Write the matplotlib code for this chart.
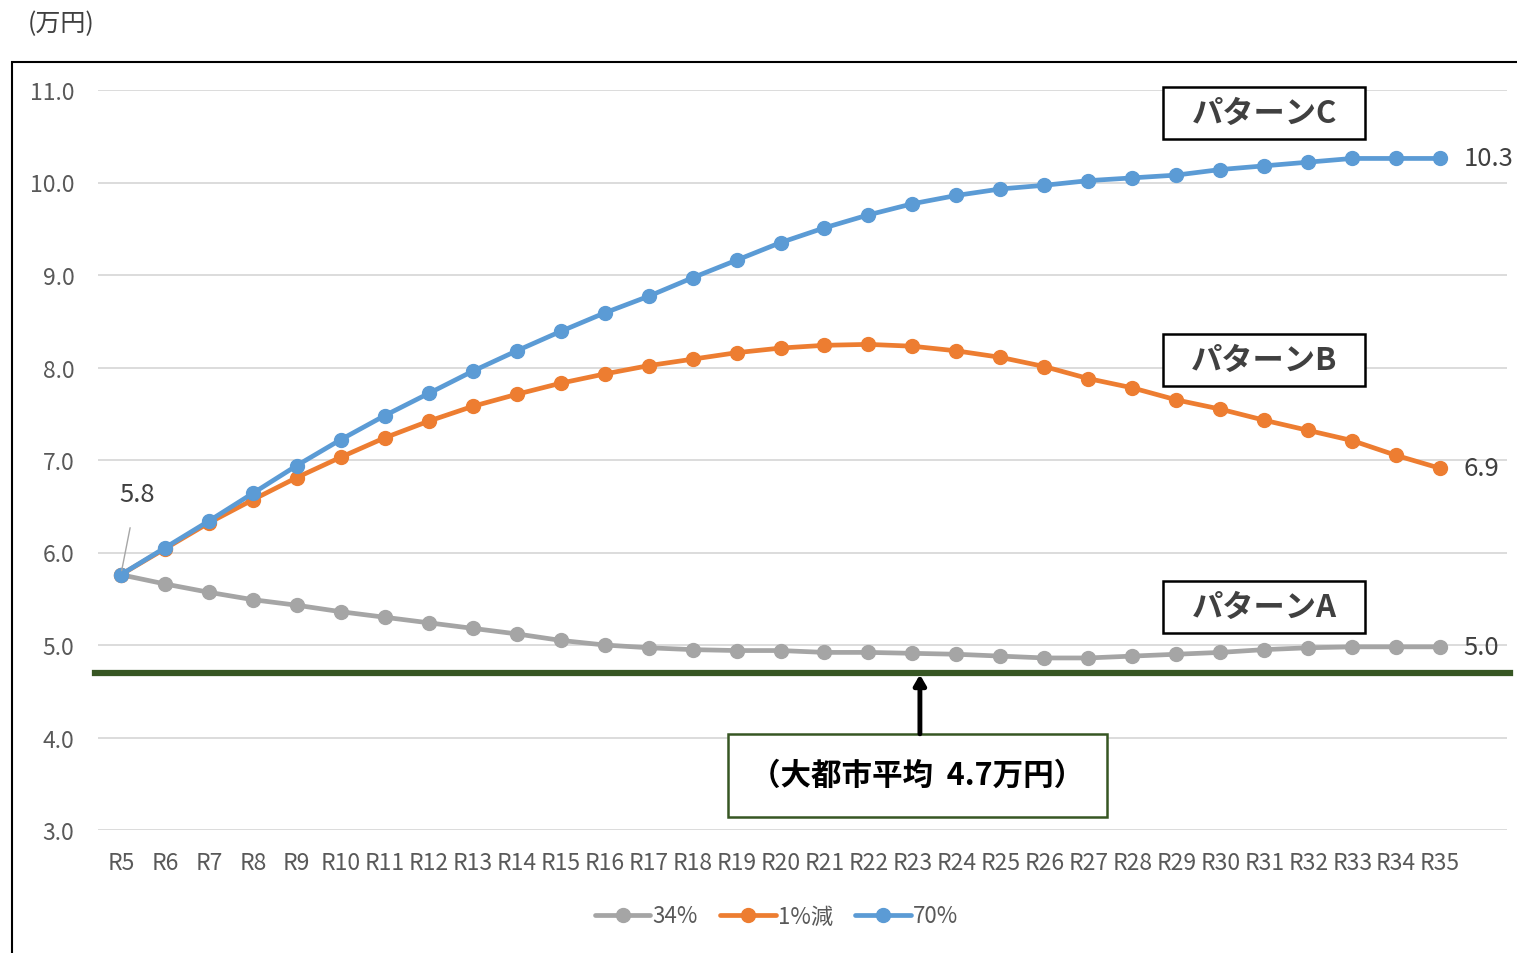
import matplotlib
matplotlib.use("Agg")
from matplotlib import pyplot as plt
from matplotlib.patches import Rectangle
from matplotlib.lines import Line2D

plt.rcParams["font.family"] = ["Noto Sans CJK JP", "DejaVu Sans"]

years = [f"R{i}" for i in range(5, 36)]

pattern_a = [5.76, 5.66, 5.57, 5.49, 5.43, 5.36, 5.30, 5.24, 5.18, 5.12, 5.05,
             5.00, 4.97, 4.95, 4.94, 4.94, 4.92, 4.92, 4.91, 4.90, 4.88, 4.86,
             4.86, 4.88, 4.90, 4.92, 4.95, 4.97, 4.98, 4.98, 4.98]
pattern_b = [5.76, 6.04, 6.32, 6.57, 6.81, 7.03, 7.24, 7.42, 7.58, 7.71, 7.83,
             7.93, 8.02, 8.09, 8.16, 8.21, 8.24, 8.25, 8.23, 8.18, 8.11, 8.01,
             7.88, 7.78, 7.65, 7.55, 7.43, 7.32, 7.21, 7.05, 6.91]
pattern_c = [5.76, 6.05, 6.34, 6.64, 6.94, 7.22, 7.48, 7.72, 7.96, 8.18, 8.39,
             8.59, 8.77, 8.97, 9.16, 9.35, 9.51, 9.65, 9.77, 9.86, 9.93, 9.97,
             10.02, 10.05, 10.08, 10.14, 10.18, 10.22, 10.26, 10.26, 10.26]

series_names = ["34%", "1%減", "70%"]
series_colors = ["#a5a5a5", "#ed7d31", "#5b9bd5"]
pattern_labels = ["パターンA", "パターンB", "パターンC"]
city_average = 4.7

TEXT = "#404040"
TICK = "#595959"

fig = plt.figure(figsize=(15.17, 9.54), dpi=100)
ax = fig.add_axes([98 / 1517, 1 - 831 / 954, 1409 / 1517, 740 / 954])

x = list(range(len(years)))
all_series = [pattern_a, pattern_b, pattern_c]
for values, name, color in zip(all_series, series_names, series_colors):
    ax.plot(x, values, color=color, lw=3.4, marker="o", ms=10,
            solid_capstyle="round", label=name, zorder=3)
    # value label at the last point
    ax.annotate(f"{values[-1]:.1f}", (x[-1], values[-1]), xytext=(17, 0),
                textcoords="offset points", ha="left", va="center",
                fontsize=18.5, color=TEXT)

ax.annotate(f"{pattern_c[0]:.1f}", (x[0], pattern_c[0]), xytext=(0.36, 6.63),
            textcoords="data", ha="center", va="center", fontsize=18.5,
            color=TEXT,
            arrowprops=dict(arrowstyle="-", color="#a6a6a6", lw=1,
                            shrinkA=13, shrinkB=3))

ax.set_xlim(-0.52, 31.52)
ax.set_ylim(3.0, 11.0)
ax.set_yticks([3, 4, 5, 6, 7, 8, 9, 10, 11])
ax.set_yticklabels([f"{v:.1f}" for v in ax.get_yticks()])
ax.set_xticks(x)
ax.set_xticklabels(years)
ax.tick_params(axis="y", length=0, pad=17, labelsize=16.5, labelcolor=TICK)
ax.tick_params(axis="x", length=0, pad=15, labelsize=16.5, labelcolor=TICK)
ax.grid(axis="y", color="#d9d9d9", lw=1.3)
ax.set_axisbelow(True)
for s in ax.spines.values():
    s.set_visible(False)

# big-city average line with callout
ax.axhline(city_average, xmin=-0.002, xmax=1.002, color="#375623", lw=4.5,
           zorder=4, clip_on=False)
ax.add_patch(Rectangle((13.80, 3.14), 8.62, 0.90, fill=True, facecolor="white",
                       edgecolor="#375623", lw=1.8, zorder=5, clip_on=False))
ax.text(18.11, 3.595, "（大都市平均  " + f"{city_average}" + "万円）",
        ha="center", va="center", fontsize=22, fontweight="bold",
        color="black", zorder=6)
ax.annotate("", xy=(18.17, city_average - 0.02), xytext=(18.17, 4.04),
            arrowprops=dict(arrowstyle="-|>,head_length=0.6,head_width=0.35",
                            color="black", lw=3.5, shrinkA=0, shrinkB=0),
            zorder=6)

# pattern name boxes
for label, yc in zip(pattern_labels, [5.41, 8.08, 10.75]):
    ax.add_patch(Rectangle((26.0 - 2.3, yc - 0.28), 4.6, 0.56, fill=True,
                           facecolor="white", edgecolor="black", lw=1.8,
                           zorder=5, clip_on=False))
    ax.text(26.0, yc, label, ha="center", va="center", fontsize=22.5,
            fontweight="bold", color=TEXT, zorder=6, clip_on=False)

fig.text(28 / 1517, 1 - 24 / 954, "(万円)", ha="left", va="center",
         fontsize=18, color=TEXT)

# outer frame, cut off at the right and bottom edges
fig.add_artist(Rectangle((12 / 1517, -0.1), 1.2, 1.1 - 63 / 954,
                         transform=fig.transFigure, fill=False,
                         edgecolor="black", lw=1.5))

handles = [Line2D([], [], color=c, lw=3.4, marker="o", ms=10,
                  solid_capstyle="round") for c in series_colors]
leg = fig.legend(handles, series_names, loc="center",
                 bbox_to_anchor=(0.512, 1 - 917 / 954), ncol=3, frameon=False,
                 fontsize=16, handlelength=2.5, handletextpad=0.1,
                 columnspacing=1.0)
for t in leg.get_texts():
    t.set_color(TICK)

fig.savefig("out.png", dpi=100)
